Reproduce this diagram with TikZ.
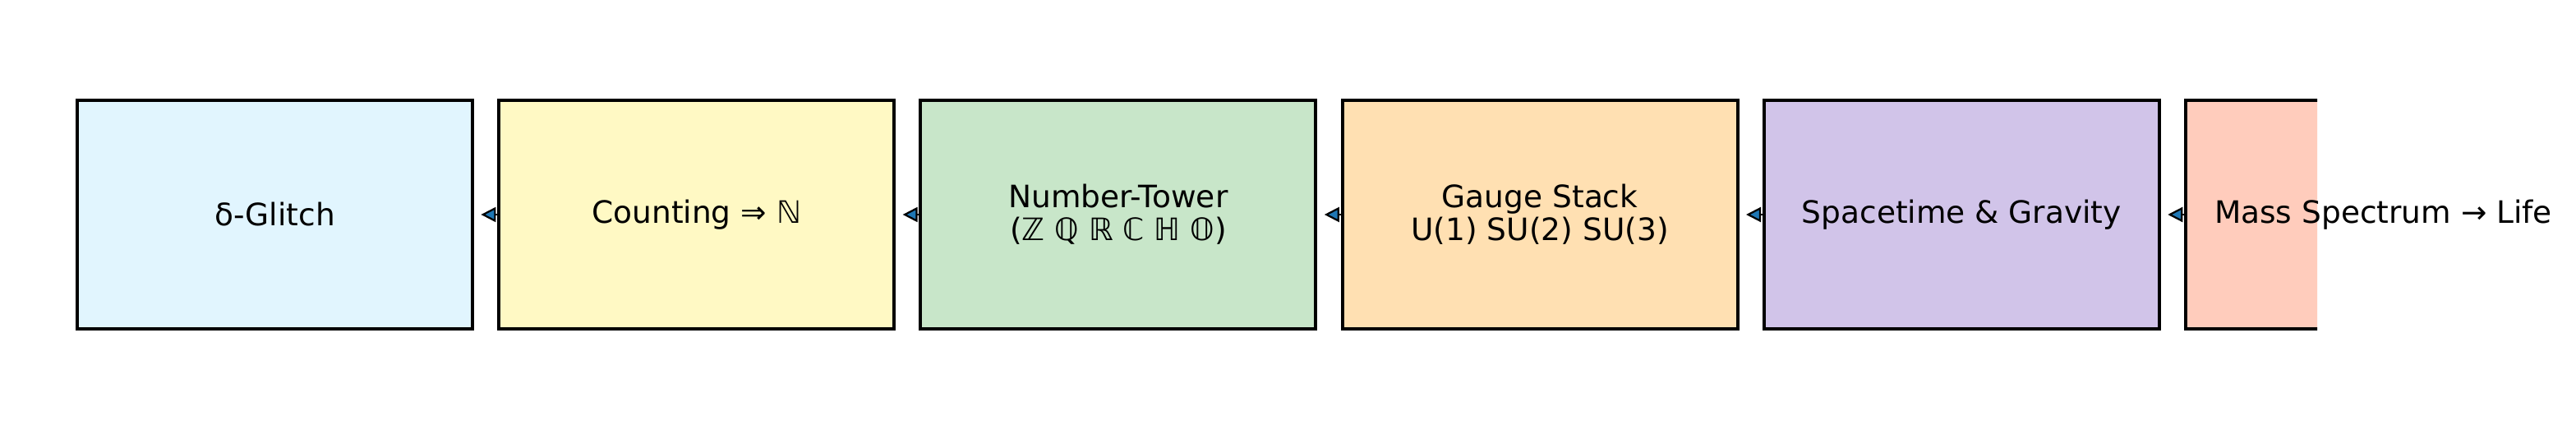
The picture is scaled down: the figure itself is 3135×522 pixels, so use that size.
\documentclass[tikz,border=0pt]{standalone}
\usepackage{fontspec}
\setmainfont{DejaVu Sans}
\usetikzlibrary{arrows.meta}

\definecolor{glitchblue}{HTML}{E1F5FE}
\definecolor{countyellow}{HTML}{FFF9C4}
\definecolor{towergreen}{HTML}{C8E6C9}
\definecolor{gaugeorange}{HTML}{FFE0B2}
\definecolor{spacepurple}{HTML}{D1C4E9}
\definecolor{massred}{HTML}{FFCCBC}
\definecolor{tabblue}{HTML}{1F77B4}

\begin{document}
\begin{tikzpicture}[x=0.36pt,y=0.36pt,
  box/.style={draw=black,line width=1.5pt,minimum width=173.16pt,minimum height=100.08pt,align=center,font=\fontsize{13.5}{14.5}\selectfont},
  flow/.style={-{Triangle[length=6.5pt,width=6.5pt,fill=tabblue]},line width=0.8pt,shorten >=3pt}]
\useasboundingbox (0,0) rectangle (3135,522);
%\draw (0,0) grid (3135,522);

\node [box,fill=glitchblue] (glitch) at (334.5,261) {δ-Glitch};
\node [box,fill=countyellow] (count) at (847.7,261) {Counting ⇒ ℕ};
\node [box,fill=towergreen] (tower) at (1360.9,261) {Number-Tower\\(ℤ ℚ ℝ ℂ ℍ 𝕆)};
\node [box,fill=gaugeorange] (gauge) at (1874.1,261) {Gauge Stack\\U(1) SU(2) SU(3)};
\node [box,fill=spacepurple] (space) at (2387.3,261) {Spacetime \& Gravity};

% last box is cut off on the right
\begin{scope}
\clip (0,0) rectangle (2820,522);
\node [box,fill=massred] (mass) at (2900.5,261) {};
\end{scope}
\node [font=\fontsize{13.5}{14.5}\selectfont] (masstext) at (mass) {Mass Spectrum → Life};

\draw [flow] (count.west) -- (glitch.east); \draw [flow] (tower.west) -- (count.east); \draw [flow] (gauge.west) -- (tower.east); \draw [flow] (space.west) -- (gauge.east); \draw [flow] (mass.west) -- (space.east);
\end{tikzpicture}
\end{document}
